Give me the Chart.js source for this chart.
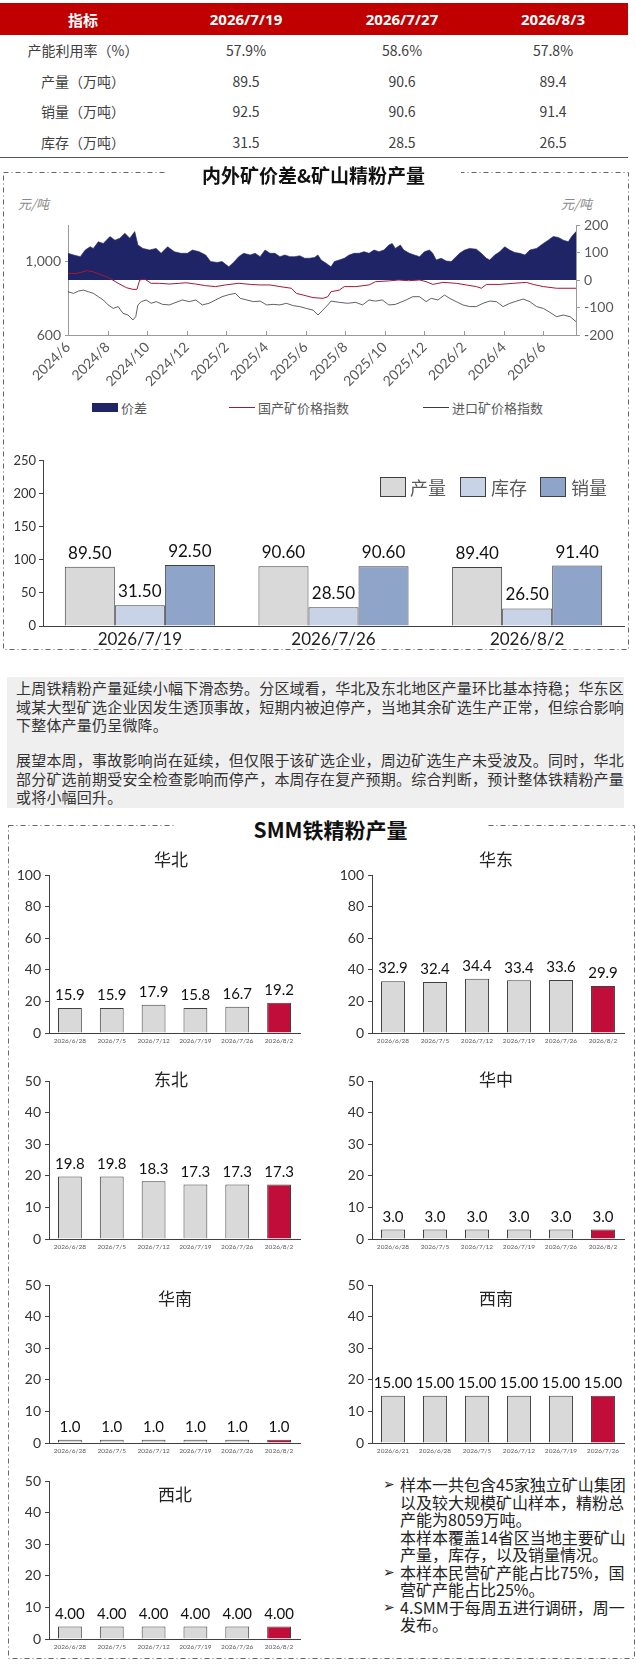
<!DOCTYPE html>
<html lang="zh-CN">
<head>
<meta charset="utf-8">
<title>铁精粉周度数据</title>
<script src="https://cdn.jsdelivr.net/npm/chart.js@4.4.1/dist/chart.umd.min.js"></script>
<style>
  body { margin: 0; background: #fff; font-family: "Noto Sans CJK SC", "Noto Sans", sans-serif; color: #333; }
  #page { position: relative; width: 636px; height: 1666px; overflow: hidden; }
  .abs { position: absolute; white-space: nowrap; }
  canvas { position: absolute; }
  table.sum { position: absolute; left: 0; top: 3px; width: 628px; border-collapse: collapse; font-size: 14px; color: #404040; }
  table.sum th { background: #c00000; color: #fff; font-weight: 700; font-size: 15px; height: 32px; padding: 0; font-family: "Noto Sans", "Noto Sans CJK SC", sans-serif; }
  table.sum td { height: 30.5px; padding: 0; text-align: center; }
  table.sum tr:last-child td { border-bottom: 1px solid #555; }
  .title { position: absolute; background: #fff; text-align: center; font-weight: 700; color: #111; z-index: 2; }
  .unit { font-size: 13px; font-style: italic; color: #8a8a8a; }
  .leg { font-size: 13px; color: #595959; }
  .bleg { font-size: 18px; color: #595959; }
  .box { position: absolute; width: 26px; height: 20px; border: 1px solid #404040; box-sizing: border-box; }
  .note { position: absolute; left: 7px; top: 677px; width: 617px; height: 131px; background: #efefef; }
  .note p { margin: 0; position: absolute; left: 9px; font-size: 15px; line-height: 18.5px; letter-spacing: 0.2px; color: #333; white-space: nowrap; }
  .ptitle { position: absolute; font-size: 17px; color: #222; transform: translateX(-50%); white-space: nowrap; z-index: 2; }
  .bul { position: absolute; left: 384px; top: 1476px; font-size: 16px; line-height: 17.5px; color: #222; }
  .bul div { position: relative; padding-left: 16px; white-space: nowrap; }
  .bul span.ar { position: absolute; left: -1px; top: 0; font-family: "DejaVu Sans", sans-serif; font-size: 14px; }
</style>
</head>
<body>
<div id="page">

  <table class="sum">
    <colgroup><col style="width:166px"><col style="width:160px"><col style="width:152px"><col style="width:150px"></colgroup>
    <tr><th>指标</th><th>2026/7/19</th><th>2026/7/27</th><th>2026/8/3</th></tr>
    <tr><td>产能利用率（%）</td><td>57.9%</td><td>58.6%</td><td>57.8%</td></tr>
    <tr><td>产量（万吨）</td><td>89.5</td><td>90.6</td><td>89.4</td></tr>
    <tr><td>销量（万吨）</td><td>92.5</td><td>90.6</td><td>91.4</td></tr>
    <tr><td>库存（万吨）</td><td>31.5</td><td>28.5</td><td>26.5</td></tr>
  </table>

  <svg class="abs" style="left:0;top:0;z-index:1" width="636" height="1666">
    <rect x="3.5" y="172.5" width="625" height="477" fill="none" stroke="#666" stroke-width="1" stroke-dasharray="5 3 1 3"/>
    <rect x="8.5" y="825.5" width="626" height="833" fill="none" stroke="#666" stroke-width="1" stroke-dasharray="5 3 1 3"/>
  </svg>

  <div class="title" style="left:166px;top:162px;width:295px;font-size:19px;line-height:26px">内外矿价差&amp;矿山精粉产量</div>
  <div class="abs unit" style="left:18px;top:194px">元/吨</div>
  <div class="abs unit" style="left:561px;top:194px">元/吨</div>

  <canvas id="priceChart" width="636" height="180" style="left:0;top:210px;width:636px;height:180px"></canvas>

  <div class="abs" style="left:92px;top:403px;width:26px;height:9px;background:#1f2466"></div>
  <div class="abs leg" style="left:121px;top:398px">价差</div>
  <div class="abs" style="left:229px;top:407px;width:26px;height:1px;background:#a3192e"></div>
  <div class="abs leg" style="left:258px;top:398px">国产矿价格指数</div>
  <div class="abs" style="left:423px;top:407px;width:26px;height:1px;background:#3a3a3a"></div>
  <div class="abs leg" style="left:452px;top:398px">进口矿价格指数</div>

  <canvas id="weekChart" width="636" height="200" style="left:0;top:450px;width:636px;height:200px"></canvas>
  <div class="box" style="left:380px;top:477px;background:#d9d9d9"></div>
  <div class="abs bleg" style="left:410px;top:474px">产量</div>
  <div class="box" style="left:460px;top:477px;background:#c9d3e8"></div>
  <div class="abs bleg" style="left:491px;top:474px">库存</div>
  <div class="box" style="left:540px;top:477px;background:#8fa4c9"></div>
  <div class="abs bleg" style="left:571px;top:474px">销量</div>

  <div class="note">
    <p style="top:2px">上周铁精粉产量延续小幅下滑态势。分区域看，华北及东北地区产量环比基本持稳；华东区<br>域某大型矿选企业因发生透顶事故，短期内被迫停产，当地其余矿选生产正常，但综合影响<br>下整体产量仍呈微降。</p>
    <p style="top:74px">展望本周，事故影响尚在延续，但仅限于该矿选企业，周边矿选生产未受波及。同时，华北<br>部分矿选前期受安全检查影响而停产，本周存在复产预期。综合判断，预计整体铁精粉产量<br>或将小幅回升。</p>
  </div>

  <div class="title" style="left:175px;top:814px;width:311px;font-size:21px;line-height:30px">SMM铁精粉产量</div>

  <canvas id="pNorth" width="310" height="184" style="left:0;top:863px;width:310px;height:184px"></canvas>
  <canvas id="pEast" width="311" height="184" style="left:323px;top:863px;width:311px;height:184px"></canvas>
  <canvas id="pNortheast" width="310" height="184" style="left:0;top:1069px;width:310px;height:184px"></canvas>
  <canvas id="pCentral" width="311" height="184" style="left:323px;top:1069px;width:311px;height:184px"></canvas>
  <canvas id="pSouth" width="310" height="184" style="left:0;top:1273px;width:310px;height:184px"></canvas>
  <canvas id="pSouthwest" width="311" height="184" style="left:323px;top:1273px;width:311px;height:184px"></canvas>
  <canvas id="pNorthwest" width="310" height="184" style="left:0;top:1469px;width:310px;height:184px"></canvas>

  <div class="ptitle" style="left:171px;top:846px">华北</div>
  <div class="ptitle" style="left:496px;top:846px">华东</div>
  <div class="ptitle" style="left:171px;top:1066px">东北</div>
  <div class="ptitle" style="left:496px;top:1066px">华中</div>
  <div class="ptitle" style="left:175px;top:1285px">华南</div>
  <div class="ptitle" style="left:496px;top:1285px">西南</div>
  <div class="ptitle" style="left:175px;top:1481px">西北</div>

  <div class="bul">
    <div><span class="ar">➢</span>样本一共包含45家独立矿山集团</div>
    <div>以及较大规模矿山样本，精粉总</div>
    <div>产能为8059万吨。</div>
    <div>本样本覆盖14省区当地主要矿山</div>
    <div>产量，库存，以及销量情况。</div>
    <div><span class="ar">➢</span>本样本民营矿产能占比75%，国</div>
    <div>营矿产能占比25%。</div>
    <div><span class="ar">➢</span>4.SMM于每周五进行调研，周一</div>
    <div>发布。</div>
  </div>
</div>

<script>
// price chart: x = months since 2024/6
const priceTickLabels = ['2024/6', '2024/8', '2024/10', '2024/12', '2025/2', '2025/4', '2025/6', '2025/8', '2025/10', '2025/12', '2026/2', '2026/4', '2026/6'];
const leftTicks = [600, 1000];
const rightTicks = [-200, -100, 0, 100, 200];

const spreadMonths = [0, 0.28, 0.62, 0.87, 1.12, 1.28, 1.53, 1.78, 2.12, 2.37, 2.62, 2.87, 3.12, 3.37, 3.53, 3.78, 4.12, 4.45, 4.7, 5.03, 5.37, 5.7, 6.03, 6.28, 6.62, 6.95, 7.2, 7.53, 7.78, 8.12, 8.37, 8.62, 8.87, 9.2, 9.45, 9.7, 9.95, 10.2, 10.45, 10.7, 10.95, 11.2, 11.45, 11.7, 11.95, 12.2, 12.45, 12.62, 12.78, 13.03, 13.28, 13.45, 13.7, 13.95, 14.2, 14.45, 14.7, 14.95, 15.2, 15.45, 15.7, 15.95, 16.2, 16.37, 16.53, 16.78, 16.95, 17.24, 17.49, 17.75, 18.0, 18.25, 18.42, 18.59, 18.84, 19.1, 19.35, 19.52, 19.77, 20.03, 20.28, 20.62, 20.87, 21.13, 21.29, 21.55, 21.8, 22.05, 22.3, 22.56, 22.81, 23.07, 23.32, 23.66, 24.0, 24.25, 24.5, 24.76, 25.01, 25.26, 25.43, 25.65];
const spreadValues = [97, 91, 85, 109, 121, 115, 139, 133, 158, 145, 152, 170, 152, 176, 127, 115, 109, 115, 97, 121, 103, 97, 97, 109, 103, 91, 67, 64, 67, 48, 65, 85, 97, 91, 97, 85, 109, 97, 97, 85, 91, 85, 85, 88, 79, 79, 82, 91, 73, 61, 48, 67, 73, 79, 91, 97, 97, 103, 97, 109, 103, 109, 127, 133, 115, 127, 109, 97, 91, 85, 103, 109, 97, 73, 79, 69, 67, 79, 97, 109, 115, 112, 97, 79, 73, 91, 103, 121, 109, 100, 97, 91, 109, 115, 133, 145, 158, 155, 145, 139, 158, 176];

const domesticMonths = [0, 0.45, 0.95, 1.28, 1.62, 2.12, 2.53, 2.95, 3.28, 3.48, 3.62, 3.87, 4.2, 4.62, 5.12, 5.62, 5.95, 6.45, 6.95, 7.45, 7.95, 8.62, 9.2, 9.7, 10.2, 10.7, 11.28, 11.53, 11.87, 12.37, 12.87, 13.12, 13.28, 13.7, 13.95, 14.53, 15.2, 15.53, 16.2, 16.7, 17.2, 17.75, 18.08, 18.42, 18.93, 19.6, 20.11, 20.62, 20.87, 21.13, 21.8, 22.48, 23.15, 23.49, 24.0, 24.67, 25.65];
const domesticValues = [936, 936, 951, 945, 931, 909, 882, 858, 849, 849, 900, 905, 882, 882, 878, 882, 885, 878, 869, 864, 873, 882, 876, 873, 873, 864, 855, 827, 818, 804, 800, 809, 836, 845, 864, 864, 873, 891, 895, 900, 896, 900, 891, 876, 887, 882, 873, 864, 855, 876, 876, 882, 887, 876, 864, 855, 855];

const importMonths = [0, 0.28, 0.53, 0.78, 1.03, 1.28, 1.53, 1.78, 2.03, 2.28, 2.53, 2.78, 3.03, 3.28, 3.42, 3.53, 3.7, 3.95, 4.2, 4.45, 4.78, 5.12, 5.45, 5.78, 6.12, 6.45, 6.78, 7.12, 7.45, 7.78, 8.12, 8.45, 8.7, 9.03, 9.37, 9.7, 10.03, 10.37, 10.7, 11.03, 11.37, 11.7, 12.03, 12.37, 12.62, 12.87, 13.12, 13.28, 13.7, 14.12, 14.53, 14.87, 15.2, 15.53, 15.87, 16.2, 16.53, 16.87, 17.07, 17.41, 17.75, 18.08, 18.34, 18.68, 19.01, 19.27, 19.6, 19.94, 20.28, 20.62, 20.96, 21.29, 21.63, 21.97, 22.31, 22.65, 22.98, 23.32, 23.66, 24.0, 24.33, 24.67, 25.01, 25.35, 25.65];
const importValues = [836, 827, 840, 845, 836, 827, 809, 791, 764, 745, 755, 718, 709, 682, 700, 764, 782, 791, 773, 782, 767, 764, 778, 791, 782, 791, 764, 773, 791, 809, 820, 827, 800, 791, 782, 785, 764, 767, 764, 773, 760, 755, 745, 736, 709, 736, 764, 785, 778, 773, 778, 764, 791, 785, 791, 764, 767, 782, 791, 809, 809, 782, 800, 791, 818, 800, 782, 764, 755, 755, 773, 785, 782, 755, 773, 785, 796, 782, 755, 745, 724, 700, 709, 700, 673];

// weekly summary bars
const weekLabels = ['2026/7/19', '2026/7/26', '2026/8/2'];
const outputValues = [89.5, 90.6, 89.4];
const stockValues = [31.5, 28.5, 26.5];
const salesValues = [92.5, 90.6, 91.4];

// regional panels
const panelDates = ['2026/6/28', '2026/7/5', '2026/7/12', '2026/7/19', '2026/7/26', '2026/8/2'];
const southwestDates = ['2026/6/21', '2026/6/28', '2026/7/5', '2026/7/12', '2026/7/19', '2026/7/26'];
const northValues = [15.9, 15.9, 17.9, 15.8, 16.7, 19.2];
const eastValues = [32.9, 32.4, 34.4, 33.4, 33.6, 29.9];
const northeastValues = [19.8, 19.8, 18.3, 17.3, 17.3, 17.3];
const centralValues = [3.0, 3.0, 3.0, 3.0, 3.0, 3.0];
const southValues = [1.0, 1.0, 1.0, 1.0, 1.0, 1.0];
const southwestValues = [15, 15, 15, 15, 15, 15];
const northwestValues = [4, 4, 4, 4, 4, 4];

Chart.defaults.font.family = 'Lato, "Noto Sans CJK SC", sans-serif';
Chart.defaults.color = '#333';

const toPoints = (xs, ys) => xs.map((x, i) => ({ x: x, y: ys[i] }));

const valueLabels = {
  id: 'valueLabels',
  afterDatasetsDraw(chart, args, opts) {
    const ctx = chart.ctx;
    ctx.save();
    ctx.font = opts.font;
    ctx.fillStyle = '#111';
    ctx.textAlign = 'center';
    ctx.textBaseline = 'bottom';
    chart.data.datasets.forEach((ds, i) => {
      chart.getDatasetMeta(i).data.forEach((bar, j) => {
        ctx.fillText(Number(ds.data[j]).toFixed(opts.decimals), bar.x, bar.y - opts.offset);
      });
    });
    ctx.restore();
  }
};

// small tick marks pointing up into the plot
const innerTicks = {
  id: 'innerTicks',
  afterDraw(chart) {
    const xs = chart.scales.x, area = chart.chartArea, ctx = chart.ctx;
    ctx.save();
    ctx.strokeStyle = '#9a9a9a';
    ctx.lineWidth = 1;
    xs.ticks.forEach(t => {
      const px = Math.round(xs.getPixelForValue(t.value)) + 0.5;
      ctx.beginPath();
      ctx.moveTo(px, area.bottom);
      ctx.lineTo(px, area.bottom - 4);
      ctx.stroke();
    });
    ctx.restore();
  }
};

new Chart(document.getElementById('priceChart'), {
  type: 'line',
  data: {
    datasets: [
      { label: '价差', data: toPoints(spreadMonths, spreadValues), yAxisID: 'yR', fill: 'origin',
        backgroundColor: '#1f2466', borderColor: '#1f2466', borderWidth: 0.6, pointRadius: 0, order: 3 },
      { label: '国产矿价格指数', data: toPoints(domesticMonths, domesticValues), yAxisID: 'yL', fill: false,
        borderColor: '#a3192e', borderWidth: 1, pointRadius: 0, order: 1 },
      { label: '进口矿价格指数', data: toPoints(importMonths, importValues), yAxisID: 'yL', fill: false,
        borderColor: '#3a3a3a', borderWidth: 0.8, pointRadius: 0, order: 2 }
    ]
  },
  options: {
    responsive: false,
    animation: false,
    layout: { padding: { top: 15 } },
    plugins: { legend: { display: false }, tooltip: { enabled: false } },
    scales: {
      x: {
        type: 'linear', min: 0, max: 25.65,
        afterBuildTicks: s => { s.ticks = priceTickLabels.map((_, i) => ({ value: i * 2 })); },
        afterFit: s => { s.height = 55; },
        grid: { display: false, drawTicks: false },
        border: { color: '#9a9a9a' },
        ticks: { autoSkip: false, minRotation: 45, maxRotation: 45, padding: 4, color: '#595959', font: { size: 14 },
                 callback: v => priceTickLabels[Math.round(v / 2)] }
      },
      yL: {
        position: 'left', min: 600, max: 1200,
        afterBuildTicks: s => { s.ticks = leftTicks.map(v => ({ value: v })); },
        afterFit: s => { s.width = 68; },
        grid: { drawOnChartArea: false, tickLength: 3, color: '#9a9a9a' },
        border: { color: '#9a9a9a' },
        ticks: { color: '#595959', font: { size: 14 }, padding: 4, callback: v => v.toLocaleString('en-US') }
      },
      yR: {
        position: 'right', min: -200, max: 200,
        afterBuildTicks: s => { s.ticks = rightTicks.map(v => ({ value: v })); },
        afterFit: s => { s.width = 60; },
        grid: { drawOnChartArea: false, tickLength: 4, color: '#9a9a9a' },
        border: { color: '#9a9a9a' },
        ticks: { color: '#595959', font: { size: 14 }, padding: 4 }
      }
    }
  },
  plugins: [innerTicks]
});

new Chart(document.getElementById('weekChart'), {
  type: 'bar',
  data: {
    labels: weekLabels,
    datasets: [
      { label: '产量', data: outputValues, backgroundColor: '#d9d9d9', borderColor: '#404040', borderWidth: 1 },
      { label: '库存', data: stockValues, backgroundColor: '#c9d3e8', borderColor: '#404040', borderWidth: 1 },
      { label: '销量', data: salesValues, backgroundColor: '#8fa4c9', borderColor: '#404040', borderWidth: 1 }
    ]
  },
  options: {
    responsive: false,
    animation: false,
    layout: { padding: { top: 10, right: 12 } },
    datasets: { bar: { barPercentage: 1, categoryPercentage: 0.775 } },
    plugins: { legend: { display: false }, tooltip: { enabled: false },
               valueLabels: { font: '17px Lato', decimals: 2, offset: 5 } },
    scales: {
      x: {
        afterFit: s => { s.height = 24; },
        grid: { display: false, drawTicks: false },
        border: { color: '#404040' },
        ticks: { color: '#222', font: { size: 17 }, padding: 3 }
      },
      y: {
        min: 0, max: 250,
        afterFit: s => { s.width = 43; },
        grid: { drawOnChartArea: false, tickLength: 4, color: '#404040' },
        border: { color: '#404040' },
        ticks: { stepSize: 50, color: '#333', font: { size: 13 }, padding: 3 }
      }
    }
  },
  plugins: [valueLabels]
});

function regionChart(id, dates, values, yMax, yStep, decimals) {
  new Chart(document.getElementById(id), {
    type: 'bar',
    data: {
      labels: dates,
      datasets: [{
        data: values,
        backgroundColor: values.map((v, i) => i === values.length - 1 ? '#c00d3a' : '#d9d9d9'),
        borderColor: '#404040',
        borderWidth: 1
      }]
    },
    options: {
      responsive: false,
      animation: false,
      layout: { padding: { top: 10, right: 10 } },
      datasets: { bar: { barPercentage: 0.57, categoryPercentage: 1 } },
      plugins: { legend: { display: false }, tooltip: { enabled: false },
                 valueLabels: { font: '15px Lato', decimals: decimals, offset: 5 } },
      scales: {
        x: {
          afterFit: s => { s.height = 14; },
          grid: { display: false, drawTicks: false },
          border: { color: '#404040' },
          ticks: { color: '#595959', font: { size: 6.5 }, padding: 4, autoSkip: false, maxRotation: 0 }
        },
        y: {
          min: 0, max: yMax,
          afterFit: s => { s.width = 49; },
          grid: { drawOnChartArea: false, tickLength: 4, color: '#404040' },
          border: { color: '#404040' },
          ticks: { stepSize: yStep, color: '#333', font: { size: 14 }, padding: 4 }
        }
      }
    },
    plugins: [valueLabels]
  });
}

regionChart('pNorth', panelDates, northValues, 100, 20, 1);
regionChart('pEast', panelDates, eastValues, 100, 20, 1);
regionChart('pNortheast', panelDates, northeastValues, 50, 10, 1);
regionChart('pCentral', panelDates, centralValues, 50, 10, 1);
regionChart('pSouth', panelDates, southValues, 50, 10, 1);
regionChart('pSouthwest', southwestDates, southwestValues, 50, 10, 2);
regionChart('pNorthwest', panelDates, northwestValues, 50, 10, 2);
</script>
</body>
</html>
